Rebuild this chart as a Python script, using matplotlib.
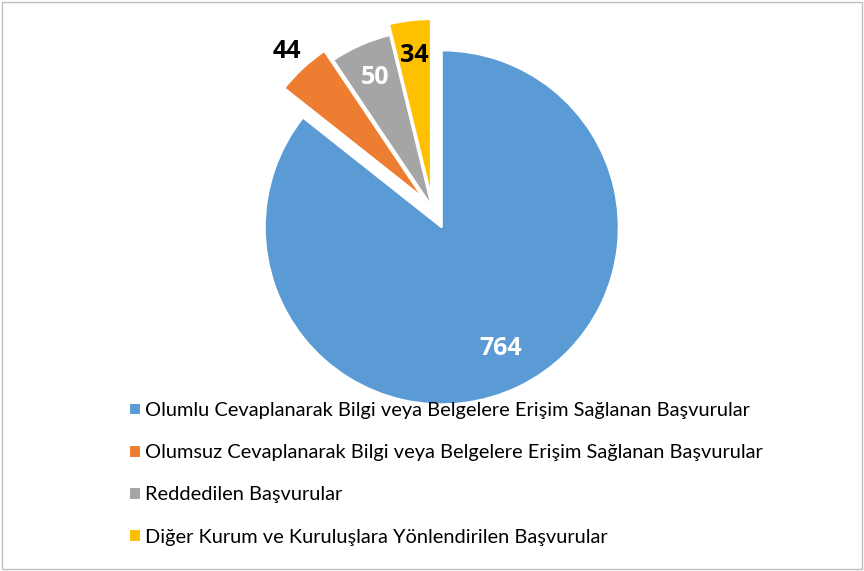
import numpy as np
import matplotlib
matplotlib.use("Agg")
import matplotlib.pyplot as plt
from matplotlib.patches import Rectangle

plt.rcParams['font.family'] = ['Lato', 'DejaVu Sans']

# Veriler
kategoriler = [
    "Olumlu Cevaplanarak Bilgi veya Belgelere Erişim Sağlanan Başvurular",
    "Olumsuz Cevaplanarak Bilgi veya Belgelere Erişim Sağlanan Başvurular",
    "Reddedilen Başvurular",
    "Diğer Kurum ve Kuruluşlara Yönlendirilen Başvurular",
]
degerler = [764, 44, 50, 34]
renkler = ["#5B9BD5", "#ED7D31", "#A5A5A5", "#FFC000"]
etiket_renkleri = ["white", "black", "white", "black"]
etiket_mesafeleri = [0.76, 1.13, 0.80, 0.80]
patlatma = [21.5, 13.7, 1.1, 12.0]   # piksel cinsinden

W, H = 864, 571
fig = plt.figure(figsize=(W / 100, H / 100), dpi=100)
ax = fig.add_axes([0, 0, 1, 1])

# Pasta grafiği (saat yönünde, tepeden başlayarak)
r = 177
wedges, _ = ax.pie(degerler, colors=renkler, explode=patlatma, radius=r,
                   center=(432.4, H - 208), startangle=90, counterclock=False,
                   wedgeprops=dict(edgecolor="white", linewidth=1.5),
                   frame=True)
ax.set_xlim(0, W)
ax.set_ylim(0, H)
ax.axis("off")

# Veri etiketleri
for w, v, c, d in zip(wedges, degerler, etiket_renkleri, etiket_mesafeleri):
    mid = np.deg2rad((w.theta1 + w.theta2) / 2)
    cx, cy = w.center
    ax.text(cx + d * r * np.cos(mid), cy + d * r * np.sin(mid), str(v),
            ha="center", va="center", fontsize=18, fontweight="bold",
            family=["Open Sans", "DejaVu Sans"], color=c)

# Açıklama
ax.legend(wedges, kategoriler, loc="upper left", bbox_to_anchor=(129, H - 402),
          bbox_transform=ax.transData, frameon=False, fontsize=14.4,
          handlelength=0.6, handleheight=0.6, handletextpad=0.2,
          labelspacing=1.26, borderpad=0, borderaxespad=0)

# Grafik çerçevesi
fig.patches.append(Rectangle((1.5 / W, 2.5 / H), 860.5 / W, 567 / H,
                             transform=fig.transFigure, fill=False,
                             edgecolor="#BFBFBF", linewidth=1))

fig.savefig("out.png", dpi=100)
